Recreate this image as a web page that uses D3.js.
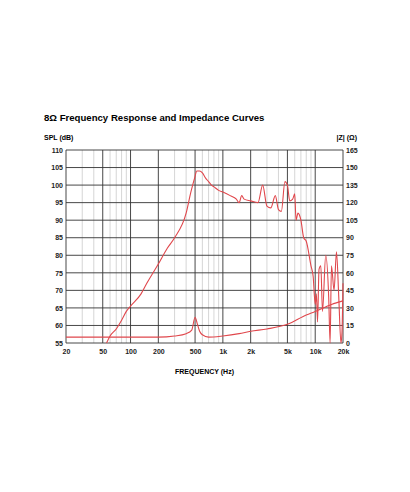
<!DOCTYPE html>
<html><head><meta charset="utf-8">
<script src="https://cdn.jsdelivr.net/npm/d3@7"></script>
<style>body{margin:0;background:#fff}text{font-family:"Liberation Sans",Arial,sans-serif}</style>
</head><body><svg width="410" height="492"></svg>
<script>
// data
const xTicks = [20,50,100,200,500,1000,2000,5000,10000,20000]
const xTickLabels = ["20","50","100","200","500","1k","2k","5k","10k","20k"]
const splTicks = [55,60,65,70,75,80,85,90,95,100,105,110]
const zTicks = [0,15,30,45,60,75,90,105,120,135,150,165]
const splFreq = [55,60,70,80,90,100,130,150,200,250,300,400,450,500,520,560,600,650,700,750,800,900,1000,1200,1400,1500,1600,1700,2000,2400,2700,3000,3300,3700,4000,4300,4700,5000,5300,5700,6000,6200,6500,7000,7500,8000,9000,9500,10000,10300,10600,11000,11500,12000,13000,14000,14500,15000,16000,17000,18000,19000,19500,20000]
const splDb = [55,57,59,61.5,64,65.5,69,72,77.5,82,85,92,98,102.5,104,104,103.5,102,101,100,99.5,98.5,98,97,96,95,97,96,95.5,95,100,94,93.5,97,93,92.5,101,100,95.5,96,97.5,90,92,90,85,84,77,74,66,69,61,76,77,64,80,68,55,77,70,81,68,55,58,72]
const zFreq = [20,100,200,300,400,460,500,530,560,600,700,1000,1500,2000,3000,5000,8000,10000,15000,20000]
const zOhm = [5,5,5,6,8,11,22,16,10,7,5,6,8,10,12,16,24,27,33,36]

const svg = d3.select("svg")
const L=66, R=343, T=150, B=343
const x = d3.scaleLog().domain([20,20000]).range([L,R])
const y = d3.scaleLinear().domain([55,110]).range([B,T])
const yz = d3.scaleLinear().domain([0,165]).range([B,T])
const red = "#e0474c"

svg.append("text").attr("x",44).attr("y",121).attr("font-size",9.6).attr("font-weight","bold").text("8Ω Frequency Response and Impedance Curves")
svg.append("text").attr("x",44).attr("y",140).attr("font-size",7).attr("font-weight","bold").text("SPL (dB)")
svg.append("text").attr("x",357).attr("y",140).attr("font-size",7).attr("font-weight","bold").attr("text-anchor","end").text("|Z| (Ω)")

//minor grid
let minor = []
for (let d of [10,100,1000,10000]) for (let k=2;k<10;k++){ let f=d*k; if(f>20&&f<20000&&!xTicks.includes(f)) minor.push(f) }
svg.append("g").selectAll("line").data(minor).enter().append("line")
  .attr("x1",d=>x(d)).attr("x2",d=>x(d)).attr("y1",T).attr("y2",B).attr("stroke","#bbb").attr("stroke-width",0.6)
svg.append("g").selectAll("line").data(xTicks).enter().append("line")
  .attr("x1",d=>x(d)).attr("x2",d=>x(d)).attr("y1",T).attr("y2",B).attr("stroke","#333").attr("stroke-width",0.9)
svg.append("g").selectAll("line").data(splTicks).enter().append("line")
  .attr("x1",L).attr("x2",R).attr("y1",d=>y(d)).attr("y2",d=>y(d)).attr("stroke","#333").attr("stroke-width",0.9)

//axes
const lab = (g)=>g.call(a=>a.select(".domain").remove()).call(a=>a.selectAll("line").remove())
  .selectAll("text").attr("font-size",7).attr("font-weight","bold").attr("font-family","Liberation Sans, Arial").attr("fill","#222")
svg.append("g").attr("transform",`translate(0,${B})`).call(d3.axisBottom(x).tickValues(xTicks).tickFormat((d,i)=>xTickLabels[i]).tickSize(0).tickPadding(6)).call(lab)
svg.append("g").attr("transform",`translate(${L},0)`).call(d3.axisLeft(y).tickValues(splTicks).tickSize(0).tickPadding(3)).call(lab)
svg.append("g").attr("transform",`translate(${R},0)`).call(d3.axisRight(yz).tickValues(zTicks).tickSize(0).tickPadding(3)).call(lab)
svg.append("text").attr("x",(L+R)/2).attr("y",374).attr("text-anchor","middle").attr("font-size",7).attr("font-weight","bold").text("FREQUENCY (Hz)")

const line = (xs,sy)=>d3.line().x((d,i)=>x(xs[i])).y(d=>sy(d)).curve(d3.curveMonotoneX)
svg.append("path").attr("d",line(splFreq,y)(splDb)).attr("fill","none").attr("stroke",red).attr("stroke-width",1.1)
svg.append("path").attr("d",line(zFreq,yz)(zOhm)).attr("fill","none").attr("stroke",red).attr("stroke-width",1.1)
</script></body></html>
